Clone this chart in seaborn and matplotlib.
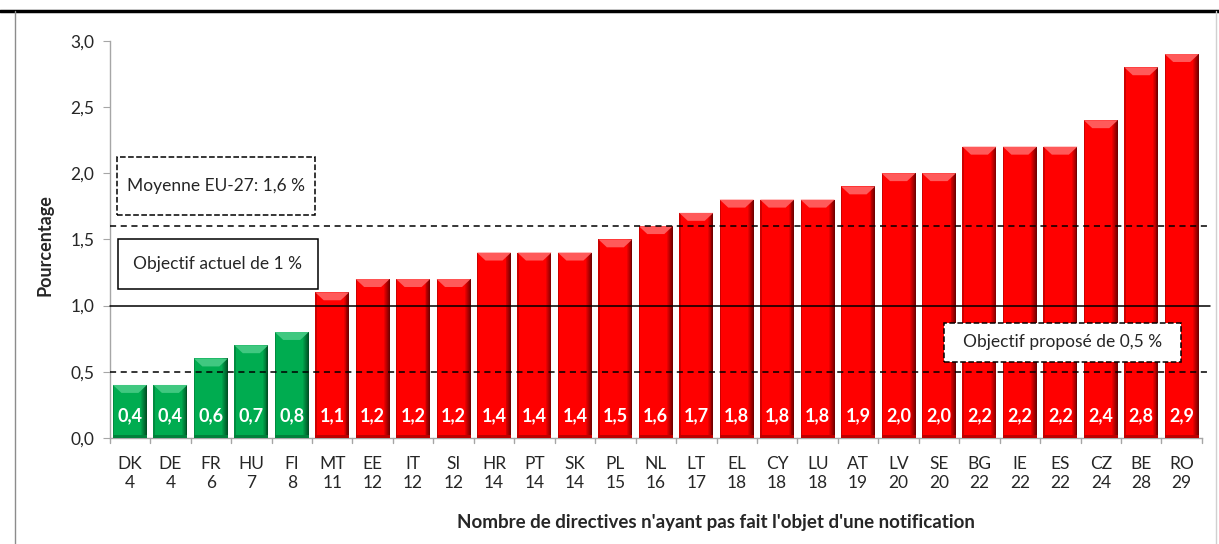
import matplotlib
matplotlib.use("Agg")
import matplotlib.pyplot as plt
import seaborn as sns
import pandas as pd
from matplotlib.patches import Rectangle, Polygon
from matplotlib.lines import Line2D
from matplotlib.colors import to_rgb

# Data
countries = ["DK", "DE", "FR", "HU", "FI", "MT", "EE", "IT", "SI", "HR", "PT", "SK", "PL", "NL",
             "LT", "EL", "CY", "LU", "AT", "LV", "SE", "BG", "IE", "ES", "CZ", "BE", "RO"]
counts = [4, 4, 6, 7, 8, 11, 12, 12, 12, 14, 14, 14, 15, 16, 17, 18, 18, 18, 19, 20, 20, 22, 22, 22, 24, 28, 29]
values = [0.4, 0.4, 0.6, 0.7, 0.8, 1.1, 1.2, 1.2, 1.2, 1.4, 1.4, 1.4, 1.5, 1.6, 1.7, 1.8, 1.8, 1.8,
          1.9, 2.0, 2.0, 2.2, 2.2, 2.2, 2.4, 2.8, 2.9]
eu_average = 1.6
current_target = 1.0
proposed_target = 0.5

labels = [f"{c}\n{n}" for c, n in zip(countries, counts)]
df = pd.DataFrame({"label": labels, "value": values})
df["group"] = ["ok" if v < current_target else "over" for v in values]

base = {"ok": "#00AC50", "over": "#FF0000"}
dark = {"ok": "#00401C", "over": "#5A0000"}
light = {"ok": "#40C880", "over": "#FF5A5A"}

sns.set_style("white")
plt.rcParams["font.family"] = ["Lato", "DejaVu Sans"]

fig = plt.figure(figsize=(12.19, 5.44), dpi=100)
ax = fig.add_axes([0.090, 0.195, 0.896, 0.730])

sns.barplot(data=df, x="label", y="value", hue="group", palette=base,
            width=0.84, dodge=False, legend=False, ax=ax, saturation=1)


def mix(c1, c2, t):
    a, b = to_rgb(c1), to_rgb(c2)
    return tuple(a[k] * (1 - t) + b[k] * t for k in range(3))


# bevel / shading on each bar
for patch, grp in zip(ax.patches[:len(values)], df["group"]):
    patch.set_edgecolor("none")
    x0, w, h = patch.get_x(), patch.get_width(), patch.get_height()
    n = 6
    for k in range(n):
        t = (k + 1) / n
        sw = w * 0.16 / n
        ax.add_patch(Rectangle((x0 + w - w * 0.16 + k * sw, 0), sw, h,
                               facecolor=mix(base[grp], dark[grp], t * 0.85),
                               edgecolor="none", zorder=2.5))
    ax.add_patch(Rectangle((x0, 0), w * 0.04, h, facecolor=mix(base[grp], dark[grp], 0.3),
                           edgecolor="none", zorder=2.5))
    bh = 0.06
    ax.add_patch(Polygon([(x0, h), (x0 + w, h), (x0 + w * 0.75, h - bh), (x0 + w * 0.25, h - bh)],
                         closed=True, facecolor=light[grp], edgecolor="none", zorder=2.6))
    ax.add_patch(Rectangle((x0, 0), w, 0.02, facecolor=mix(base[grp], dark[grp], 0.4),
                           edgecolor="none", zorder=2.6))

for i, v in enumerate(values):
    ax.text(i, 0.17, f"{v:.1f}".replace(".", ","), ha="center", va="center",
            color="white", fontsize=13, fontweight="bold", zorder=4)

# reference lines
ax.axhline(eu_average, xmin=0, xmax=1.007, color="black", lw=1.1, ls=(0, (4, 3)), clip_on=False, zorder=3)
ax.axhline(current_target, xmin=0, xmax=1.007, color="black", lw=1.1, clip_on=False, zorder=3)
ax.axhline(proposed_target, xmin=0, xmax=1.007, color="black", lw=1.1, ls=(0, (4, 3)), clip_on=False, zorder=3)

# annotation boxes
boxes = [
    ((0.0064, 0.562), 0.182, 0.146, "--", "Moyenne EU-27: 1,6 %"),
    ((0.0073, 0.375), 0.183, 0.126, "-", "Objectif actuel de 1 %"),
    ((0.7637, 0.191), 0.217, 0.099, "--", "Objectif proposé de 0,5 %"),
]
for (bx, by), bw, bh, ls, txt in boxes:
    ax.add_patch(Rectangle((bx, by), bw, bh, transform=ax.transAxes, facecolor="white",
                           edgecolor="black", lw=1.1, ls=ls, zorder=5))
    ax.text(bx + bw / 2, by + bh / 2, txt, transform=ax.transAxes, ha="center", va="center",
            fontsize=12.5, zorder=6)

ax.set_ylim(0, 3.0)
ax.set_xlim(-0.5, len(values) - 0.5)
ax.set_yticks([0, 0.5, 1.0, 1.5, 2.0, 2.5, 3.0])
ax.set_yticklabels([f"{t:.1f}".replace(".", ",") for t in ax.get_yticks()], fontsize=12.5)
ax.tick_params(axis="x", labelsize=12.5, length=0, pad=13)
for t in ax.get_xticklabels():
    t.set_linespacing(1.2)
ax.tick_params(axis="y", length=5, color="#A6A6A6", direction="out", left=True, pad=6)
for i in range(len(values) + 1):
    ax.plot([i - 0.5, i - 0.5], [0, -0.04], color="#A6A6A6", lw=1, clip_on=False)

for s in ["top", "right"]:
    ax.spines[s].set_visible(False)
for s in ["left", "bottom"]:
    ax.spines[s].set_color("#A6A6A6")
    ax.spines[s].set_linewidth(1)

ax.set_xlabel("")
ax.set_ylabel("")
fig.text(0.037, 0.55, "Pourcentage", rotation=90, ha="center", va="center",
         fontsize=13, fontweight="bold")
fig.text(0.587, 0.040, "Nombre de directives n'ayant pas fait l'objet d'une notification",
         ha="center", va="center", fontsize=13.5, fontweight="bold")

# frame
fig.add_artist(Line2D([0, 1], [0.980, 0.980], color="black", lw=2.5))
fig.add_artist(Line2D([0.0123, 0.0123], [0, 0.980], color="#8C8C8C", lw=1))
fig.add_artist(Line2D([0.9975, 0.9975], [0, 0.980], color="#D0D0D0", lw=1))

fig.savefig("out.png", dpi=100)
